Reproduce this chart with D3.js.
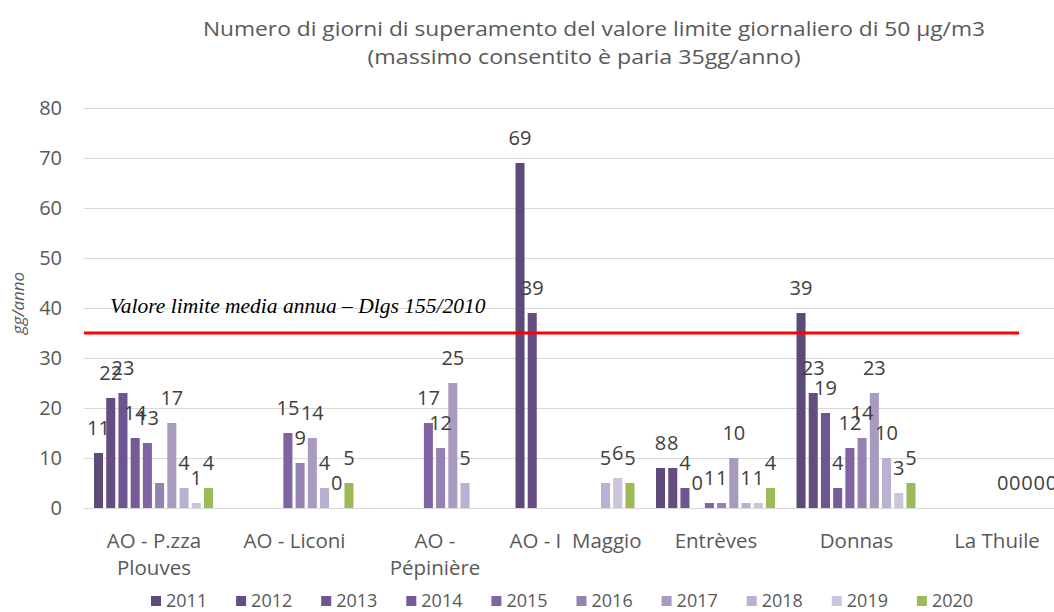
<!DOCTYPE html>
<html>
<meta charset="utf-8">
<style>
body { margin: 0; background: #fff; }
svg { display: block; font-family: "Open Sans", sans-serif; }
.grid line { stroke: #d9d9d9; stroke-width: 1; }
.axis path, .axis line { display: none; }
.axis text { fill: #595959; font-size: 20px; font-family: "Open Sans", sans-serif; }
.cat text { fill: #595959; font-size: 20.5px; }
.leg text { fill: #595959; font-size: 18px; }
.lbl { fill: #404040; font-size: 20px; }
</style>
<body>
<svg id="chart" width="1054" height="612"></svg>
<script src="https://d3js.org/d3.v7.min.js"></script>
<script>

// stations (category axis)
var categories = ["AO - P.zza Plouves", "AO - Liconi", "AO - Pépinière", "AO - I Maggio", "Entrèves", "Donnas", "La Thuile"];
var categoryLines = [["AO - P.zza", "Plouves"], ["AO - Liconi"], ["AO -", "Pépinière"], ["AO - I  Maggio"], ["Entrèves"], ["Donnas"], ["La Thuile"]];

var years = ["2011", "2012", "2013", "2014", "2015", "2016", "2017", "2018", "2019", "2020"];

// days over the limit, one array per year (null = no data)
var v2011 = [11, null, null, 69, 8, 39, null];
var v2012 = [22, null, null, 39, 8, 23, null];
var v2013 = [23, null, null, null, 4, 19, null];
var v2014 = [14, null, null, null, 0, 4, null];
var v2015 = [13, 15, 17, null, 1, 12, null];
var v2016 = [5, 9, 12, null, 1, 14, 0];
var v2017 = [17, 14, 25, null, 10, 23, 0];
var v2018 = [4, 4, 5, 5, 1, 10, 0];
var v2019 = [1, 0, null, 6, 1, 3, 0];
var v2020 = [4, 5, null, 5, 4, 5, 0];

var colors = ["#5e4a78", "#654d82", "#6e5490", "#775a99", "#8063a3", "#9582b3", "#a99abf", "#bab0cf", "#cbc4dc", "#9bbb59"];

var yTicks = [0, 10, 20, 30, 40, 50, 60, 70, 80];
var limitValue = 35;
var limitLabel = "Valore limite media annua – Dlgs 155/2010";
var hiddenLabels = [["AO - P.zza Plouves", "2016"]];  // excel dropped this one

var title1 = "Numero di giorni di superamento del valore limite giornaliero di 50 µg/m3";
var title2 = "(massimo consentito è paria 35gg/anno)";
var yTitle = "gg/anno";

var series = [v2011, v2012, v2013, v2014, v2015, v2016, v2017, v2018, v2019, v2020];

var svg = d3.select("#chart");

var x0 = d3.scaleBand()
    .domain(categories)
    .range([84, 1067.5]);

var x1 = d3.scaleBand()
    .domain(years)
    .range([10, 129])
    .paddingInner(0.26);

var y = d3.scaleLinear()
    .domain([0, 80])
    .range([508, 108]);

var z = d3.scaleOrdinal().domain(years).range(colors);

// gridlines
svg.append("g")
    .attr("class", "grid")
  .selectAll("line")
  .data(yTicks)
  .enter().append("line")
    .attr("x1", 84)
    .attr("x2", 1070)
    .attr("y1", function(d) { return y(d) + 0.5; })
    .attr("y2", function(d) { return y(d) + 0.5; });

svg.append("g")
    .attr("class", "axis")
    .attr("transform", "translate(84,0)")
    .call(d3.axisLeft(y).tickValues(yTicks).tickSize(0).tickPadding(22));

// bars
var rows = [];
categories.forEach(function(c, i) {
  years.forEach(function(yr, j) {
    var v = series[j][i];
    if (v !== null) rows.push({cat: c, year: yr, value: v});
  });
});

var groups = svg.append("g");

groups.selectAll("rect")
  .data(rows)
  .enter().append("rect")
    .attr("x", function(d) { return x0(d.cat) + x1(d.year); })
    .attr("y", function(d) { return y(d.value); })
    .attr("width", x1.bandwidth())
    .attr("height", function(d) { return y(0) - y(d.value); })
    .attr("fill", function(d) { return z(d.year); });

groups.selectAll("text")
  .data(rows.filter(function(d) {
    return !hiddenLabels.some(function(h) { return h[0] == d.cat && h[1] == d.year; });
  }))
  .enter().append("text")
    .attr("class", "lbl")
    .attr("text-anchor", "middle")
    .attr("x", function(d) { return x0(d.cat) + x1(d.year) + x1.bandwidth() / 2; })
    .attr("y", function(d) { return y(d.value) - 18; })
    .text(function(d) { return d.value; });

// category labels
var cl = svg.append("g").attr("class", "cat");
categories.forEach(function(c, i) {
  var t = cl.append("text")
      .attr("text-anchor", "middle")
      .attr("x", x0(c) + 70)
      .attr("y", 548)
      .style("white-space", "pre");
  categoryLines[i].forEach(function(line, k) {
    t.append("tspan")
        .attr("x", x0(c) + 70)
        .attr("dy", k == 0 ? 0 : 27)
        .text(line);
  });
});

// limit line
svg.append("line")
    .attr("x1", 84)
    .attr("x2", 1019)
    .attr("y1", y(limitValue))
    .attr("y2", y(limitValue))
    .attr("stroke", "#ff0000")
    .attr("stroke-width", 3);

svg.append("text")
    .attr("x", 110)
    .attr("y", 313)
    .style("font-family", "'Liberation Serif', serif")
    .style("font-style", "italic")
    .style("font-size", "21.5px")
    .attr("fill", "#000")
    .text(limitLabel);

// title
svg.append("text")
    .attr("x", 594)
    .attr("y", 36)
    .attr("text-anchor", "middle")
    .attr("fill", "#595959")
    .attr("textLength", 782)
    .attr("lengthAdjust", "spacingAndGlyphs")
    .style("font-size", "20px")
    .text(title1);

svg.append("text")
    .attr("x", 584)
    .attr("y", 64)
    .attr("text-anchor", "middle")
    .attr("fill", "#595959")
    .attr("textLength", 433)
    .attr("lengthAdjust", "spacingAndGlyphs")
    .style("font-size", "20px")
    .text(title2);

// y axis title
svg.append("text")
    .attr("transform", "translate(24,303) rotate(-90)")
    .attr("text-anchor", "middle")
    .attr("fill", "#595959")
    .style("font-size", "17px")
    .style("font-style", "italic")
    .text(yTitle);

// legend
var legend = svg.append("g").attr("class", "leg")
  .selectAll("g")
  .data(years)
  .enter().append("g")
    .attr("transform", function(d, i) { return "translate(" + (151 + i * 85.1) + ",596)"; });

legend.append("rect")
    .attr("width", 10)
    .attr("height", 10)
    .attr("fill", function(d) { return z(d); });

legend.append("text")
    .attr("x", 15)
    .attr("y", 11)
    .text(function(d) { return d; });

</script>
</body>
</html>
